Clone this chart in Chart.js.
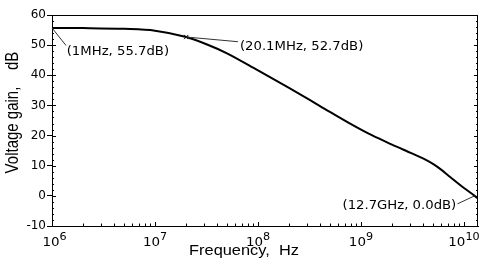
<!DOCTYPE html>
<html>
<head>
<meta charset="utf-8">
<script src="https://cdn.jsdelivr.net/npm/chart.js@4.4.1/dist/chart.umd.min.js"></script>
<style>
  html, body { margin: 0; padding: 0; background: #fff; }
  #wrap { width: 493px; height: 268px; }
</style>
</head>
<body>
<div id="wrap"><canvas id="gain_chart"></canvas></div>
<script>
// gain curve
var freqHz = [1e6, 2e6, 5e6, 1e7, 2.01e7, 3.16e7, 5e7, 1e8, 2e8, 4e8, 8e8, 1.26e9, 2e9, 3.16e9, 4e9, 5e9, 6e9, 7.08e9, 1e10, 1.27e10, 1.368e10];
var gainDb = [55.7, 55.65, 55.4, 54.8, 52.7, 50.3, 47.3, 41.6, 35.8, 29.8, 23.8, 20.2, 17.0, 14.0, 12.4, 10.6, 8.7, 6.7, 2.6, 0.0, -0.9];

// cursor readouts
var markFreq = [1e6, 2.01e7, 1.27e10];
var markGain = [55.7, 52.7, 0.0];
var markText = ["(1MHz, 55.7dB)", "(20.1MHz, 52.7dB)", "(12.7GHz, 0.0dB)"];

var decadeExp = [6, 7, 8, 9, 10];
var xTitle = "Frequency,  Hz";
var yTitle = "Voltage gain,    dB";

var curve = freqHz.map(function (f, i) { return { x: f, y: gainDb[i] }; });
var marks = markFreq.map(function (f, i) { return { x: f, y: markGain[i] }; });

// where each readout label sits relative to its point
var labelPlace = [
  { dx: 14.7, dy: 27.5, align: "left", lx: 14, ly: 17.5 },
  { dx: 53.7, dy: 13, align: "left", lx: 51.7, ly: 4.7 },
  { dx: -18.4, dy: 13, align: "right", lx: -17.2, ly: 8 }
];

function wideText(c, txt, x, y, sx, align) {
  var w = c.measureText(txt).width * sx;
  var x0 = align === "right" ? x - w : align === "center" ? x - w / 2 : x;
  c.save();
  c.translate(x0, y);
  c.scale(sx, 1);
  c.textAlign = "left";
  c.fillText(txt, 0, 0);
  c.restore();
  return w;
}

var decorPlugin = {
  id: "decor",
  afterDraw: function (chart) {
    var c = chart.ctx;
    var a = chart.chartArea;
    var xs = chart.scales.x;
    var ys = chart.scales.y;
    c.save();
    c.strokeStyle = "#000";
    c.fillStyle = "#000";
    c.lineWidth = 1;

    // top and right frame
    c.beginPath();
    c.moveTo(Math.round(a.left) + 0.5, Math.round(a.top) + 0.5);
    c.lineTo(Math.round(a.right) - 0.5, Math.round(a.top) + 0.5);
    c.lineTo(Math.round(a.right) - 0.5, Math.round(a.bottom));
    c.stroke();

    // x ticks, inward
    c.beginPath();
    decadeExp.forEach(function (d) {
      for (var m = 1; m <= 9; m++) {
        var v = m * Math.pow(10, d);
        if (v > xs.max) break;
        var px = Math.round(xs.getPixelForValue(v)) + 0.5;
        var len = m === 1 ? 4 : 2.5;
        c.moveTo(px, a.bottom);
        c.lineTo(px, a.bottom - len);
      }
    });
    c.stroke();

    // y minor ticks, inward on both sides
    c.beginPath();
    for (var v = ys.min; v <= ys.max; v += 2) {
      var py = Math.round(ys.getPixelForValue(v)) + 0.5;
      var len = v % 10 === 0 ? 4 : 2;
      c.moveTo(a.left, py);
      c.lineTo(a.left + len, py);
      c.moveTo(a.right, py);
      c.lineTo(a.right - len, py);
    }
    c.stroke();

    // x tick labels 10^n
    c.textBaseline = "alphabetic";
    decadeExp.forEach(function (d) {
      var px = xs.getPixelForValue(Math.pow(10, d));
      c.font = '12px "DejaVu Sans"';
      var wb = c.measureText("10").width * 1.12;
      c.font = '10px "DejaVu Sans"';
      var we = c.measureText(String(d)).width * 1.12;
      var x0 = px - (wb + we) / 2;
      if (d === decadeExp[0]) x0 = px - wb / 2 - 1;
      c.font = '12px "DejaVu Sans"';
      wideText(c, "10", x0, a.bottom + 20, 1.12, "left");
      c.font = '10px "DejaVu Sans"';
      wideText(c, String(d), x0 + wb, a.bottom + 14, 1.12, "left");
    });

    // readouts with leader lines
    c.font = '11.5px "DejaVu Sans"';
    marks.forEach(function (p, i) {
      var px = xs.getPixelForValue(p.x);
      var py = ys.getPixelForValue(p.y);
      var lp = labelPlace[i];
      c.beginPath();
      c.strokeStyle = "#333";
      c.moveTo(px, py);
      c.lineTo(px + lp.lx, py + lp.ly);
      c.stroke();
      wideText(c, markText[i], px + lp.dx, py + lp.dy, 1.15, lp.align);
    });

    // axis titles
    c.font = '14px "Liberation Sans"';
    wideText(c, xTitle, (a.left + a.right) / 2 - 21, 254.5, 1.17, "center");
    c.font = '15px "Liberation Sans"';
    c.save();
    c.translate(18, (a.top + a.bottom) / 2 - 8);
    c.scale(1.17, 1);
    c.rotate(-Math.PI / 2);
    c.textAlign = "center";
    c.fillText(yTitle, 0, 0);
    c.restore();

    c.restore();
  }
};

new Chart(document.getElementById("gain_chart"), {
  type: "line",
  data: {
    datasets: [
      {
        data: curve,
        borderColor: "#000",
        borderWidth: 2,
        pointRadius: 0,
        cubicInterpolationMode: "monotone",
        fill: false
      },
      {
        data: marks,
        showLine: false,
        borderColor: "#000",
        borderWidth: 1,
        pointStyle: "crossRot",
        pointRadius: [0, 3, 0]
      }
    ]
  },
  options: {
    responsive: true,
    maintainAspectRatio: false,
    animation: false,
    devicePixelRatio: 1,
    layout: { padding: { top: 15, right: 15, left: 0, bottom: 0 } },
    plugins: {
      legend: { display: false },
      tooltip: { enabled: false }
    },
    scales: {
      x: {
        type: "logarithmic",
        min: 1e6,
        max: 1.368e10,
        ticks: { display: false },
        grid: { display: false },
        border: { display: true, color: "#000", width: 1 },
        afterFit: function (s) { s.height = 42; }
      },
      y: {
        min: -10,
        max: 60,
        ticks: {
          stepSize: 10,
          color: "#000",
          padding: 1,
          font: { family: "DejaVu Sans", size: 12 }
        },
        grid: { drawOnChartArea: false, drawTicks: true, tickLength: 5, color: "#000" },
        border: { display: true, color: "#000", width: 1 },
        afterFit: function (s) { s.width = 52; }
      }
    }
  },
  plugins: [decorPlugin]
});
</script>
</body>
</html>
